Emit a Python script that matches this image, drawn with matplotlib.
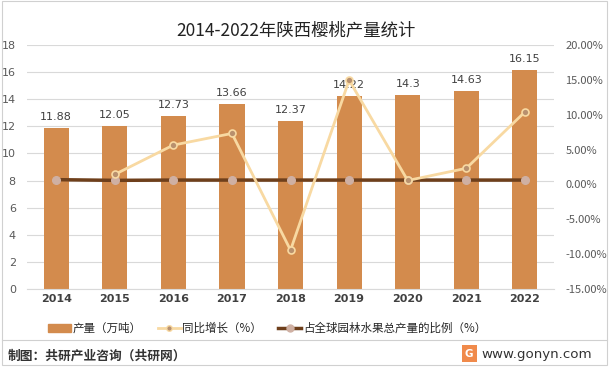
import matplotlib
matplotlib.use("Agg")
import matplotlib.pyplot as plt
from matplotlib.patches import Rectangle
from matplotlib.lines import Line2D
from matplotlib.ticker import FuncFormatter, MultipleLocator

plt.rcParams['font.family'] = ['Noto Sans CJK SC', 'DejaVu Sans']

years = ['2014', '2015', '2016', '2017', '2018', '2019', '2020', '2021', '2022']
output = [11.88, 12.05, 12.73, 13.66, 12.37, 14.22, 14.3, 14.63, 16.15]
growth = [None, 1.43, 5.64, 7.31, -9.44, 14.96, 0.56, 2.31, 10.39]
share = [0.68, 0.58, 0.62, 0.62, 0.62, 0.62, 0.62, 0.62, 0.62]

bar_color = '#D38B4D'
growth_color = '#F8D9A2'
share_color = '#6E3F1B'

fig = plt.figure(figsize=(6.11, 3.69), dpi=100)
ax = fig.add_axes([0.044, 0.217, 0.863, 0.661])
ax2 = ax.twinx()

x = list(range(len(years)))
ax.bar(x, output, width=0.43, color=bar_color, zorder=2)
for xi, v in zip(x, output):
    ax.text(xi, v + 0.45, f'{v:g}', ha='center', va='bottom', fontsize=8, color='#404040',
            family='DejaVu Sans')

ax.set_ylim(0, 18)
ax.set_xlim(-0.5, len(years) - 0.5)
ax.yaxis.set_major_locator(MultipleLocator(2))
ax.grid(axis='y', color='#D9D9D9', linewidth=0.8, zorder=0)
ax.set_axisbelow(True)
ax.set_xticks(x)
ax.set_xticklabels(years, fontsize=8, color='#404040', fontweight='bold', family='DejaVu Sans')
ax.tick_params(axis='both', length=0, pad=4)
ax.tick_params(axis='y', labelsize=8, labelcolor='#595959', pad=8)
for lab in ax.get_yticklabels():
    lab.set_family('DejaVu Sans')
for s in ax.spines.values():
    s.set_visible(False)
ax.spines['bottom'].set_visible(True)
ax.spines['bottom'].set_color('#D9D9D9')

gx = [xi for xi, g in zip(x, growth) if g is not None]
gy = [g for g in growth if g is not None]
ax2.plot(gx, gy, color=growth_color, linewidth=2, marker='o', markersize=5,
         markerfacecolor='#B8906E', markeredgecolor=growth_color, markeredgewidth=1.2, zorder=4)
ax2.plot(x, share, color=share_color, linewidth=2.5, marker='o', markersize=5.5,
         markerfacecolor='#CFB0A3', markeredgecolor='#CFB0A3', zorder=3)
ax2.set_ylim(-15, 20)
ax2.yaxis.set_major_locator(MultipleLocator(5))
ax2.yaxis.set_major_formatter(FuncFormatter(lambda v, p: f'{v:.2f}%'))
ax2.tick_params(axis='y', length=0, labelsize=8, labelcolor='#595959', pad=8)
for s in ax2.spines.values():
    s.set_visible(False)
ax.set_zorder(1)
ax2.set_zorder(2)
ax.patch.set_visible(False)

fig.text(0.485, 0.918, '2014-2022年陕西樱桃产量统计', ha='center', va='center', fontsize=12.5, color='#222222')

handles = [
    Rectangle((0, 0), 1, 1, color=bar_color),
    Line2D([0], [0], color=growth_color, linewidth=2, marker='o', markersize=4,
           markerfacecolor='#B8906E', markeredgecolor=growth_color),
    Line2D([0], [0], color=share_color, linewidth=2.5, marker='o', markersize=5,
           markerfacecolor='#CFB0A3', markeredgecolor='#CFB0A3'),
]
labels = ['产量（万吨）', '同比增长（%）', '占全球园林水果总产量的比例（%）']
fig.legend(handles, labels, loc='center', bbox_to_anchor=(0.437, 0.11), ncol=3, frameon=False,
           fontsize=8.3, handlelength=2.0, handleheight=0.7, columnspacing=1.4, handletextpad=0.15,
           labelcolor='#262626')

# frame and footer
fig.add_artist(Rectangle((0.004, 0.012), 0.99, 0.984, transform=fig.transFigure, fill=False,
                         edgecolor='#D0D0D0', linewidth=0.8))
fig.add_artist(Line2D([0.004, 0.994], [0.079, 0.079], transform=fig.transFigure,
                      color='#D0D0D0', linewidth=0.8))
fig.text(0.012, 0.035, '制图：共研产业咨询（共研网）', ha='left', va='center', fontsize=9.2,
         color='#333333', fontweight='bold')
fig.add_artist(Rectangle((0.756, 0.018), 0.024, 0.046, transform=fig.transFigure,
                         color='#F08A4B', linewidth=0))
fig.text(0.768, 0.041, 'G', ha='center', va='center', fontsize=7.5, color='white', fontweight='bold',
         family='DejaVu Sans')
fig.text(0.969, 0.038, 'www.gonyn.com', ha='right', va='center', fontsize=9.6, color='#333333',
         family='DejaVu Sans')

fig.savefig('out.png', dpi=100)
